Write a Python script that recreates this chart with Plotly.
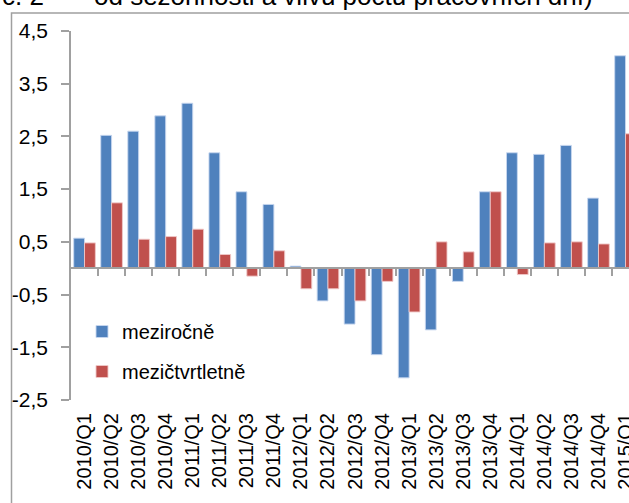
import plotly.graph_objects as go

quarters = ["2010/Q1", "2010/Q2", "2010/Q3", "2010/Q4",
            "2011/Q1", "2011/Q2", "2011/Q3", "2011/Q4",
            "2012/Q1", "2012/Q2", "2012/Q3", "2012/Q4",
            "2013/Q1", "2013/Q2", "2013/Q3", "2013/Q4",
            "2014/Q1", "2014/Q2", "2014/Q3", "2014/Q4",
            "2015/Q1"]
mezirocne = [0.57, 2.52, 2.60, 2.89, 3.13, 2.19, 1.45, 1.21,
             0.04, -0.62, -1.06, -1.64, -2.08, -1.17, -0.25, 1.45,
             2.19, 2.16, 2.33, 1.33, 4.03]
mezictvrtletne = [0.48, 1.24, 0.55, 0.60, 0.74, 0.26, -0.15, 0.33,
                  -0.39, -0.39, -0.62, -0.25, -0.83, 0.50, 0.31, 1.45,
                  -0.12, 0.48, 0.50, 0.46, 2.55]
y_tickvals = [4.5, 3.5, 2.5, 1.5, 0.5, -0.5, -1.5, -2.5]
y_ticktext = ["4,5", "3,5", "2,5", "1,5", "0,5", "-0,5", "-1,5", "-2,5"]

W, H = 629, 503
L, T, B, R = 71, 31, 103, 0
pw, ph = W - L - R, H - T - B
cat_px = 27.05
xmax = -0.5 + pw / cat_px
ymin, ymax = -2.5, 4.5

FONT = "Liberation Sans, Arial, sans-serif"
GRAY = "#a0a0a0"

fig = go.Figure()
fig.add_trace(go.Bar(x=quarters, y=mezirocne, name="meziročně",
                     legendgroup="a",
                     marker=dict(color="#4F81BD",
                                 line=dict(color="rgba(200,215,240,0.9)", width=1))))
fig.add_trace(go.Bar(x=quarters, y=mezictvrtletne, name="mezičtvrtletně",
                     legendgroup="b",
                     marker=dict(color="#C0504D",
                                 line=dict(color="rgba(240,200,200,0.9)", width=1))))

# invisible helper trace to create the zero-line axis with boundary ticks
fig.add_trace(go.Scatter(x=[0, len(quarters) - 1], y=[0, 0], xaxis="x2",
                         mode="markers", marker=dict(opacity=0),
                         showlegend=False, hoverinfo="skip"))

fig.update_layout(
    width=W, height=H,
    margin=dict(l=L, r=R, t=T, b=B, autoexpand=False),
    paper_bgcolor="white", plot_bgcolor="white",
    barmode="group", bargap=0.2, bargroupgap=0,
    font=dict(family=FONT, size=20, color="#000"),
    showlegend=True,
    legend=dict(x=(82 - L) / pw, y=1 - (312 - T) / ph,
                xanchor="left", yanchor="top",
                bgcolor="rgba(0,0,0,0)", borderwidth=0,
                tracegroupgap=11,
                font=dict(family=FONT, size=20, color="#000")),
    xaxis=dict(type="category", range=[-0.5, xmax],
               showline=False, ticks="", showgrid=False, zeroline=False,
               tickangle=-90, ticklabelstandoff=8,
               tickfont=dict(family=FONT, size=20, color="#000")),
    xaxis2=dict(overlaying="x", anchor="free",
                position=(0 - ymin) / (ymax - ymin),
                type="linear", range=[-0.5, xmax],
                tickmode="array",
                tickvals=[i + 0.5 for i in range(len(quarters))],
                ticks="outside", ticklen=7, tickcolor=GRAY, tickwidth=1.5,
                showticklabels=False, showline=True, linecolor=GRAY,
                linewidth=1.5, showgrid=False, zeroline=False),
    yaxis=dict(range=[ymin, ymax], tickmode="array",
               tickvals=y_tickvals, ticktext=y_ticktext,
               showline=True, linecolor=GRAY, linewidth=1.5,
               ticks="outside", ticklen=8, tickcolor=GRAY, tickwidth=1.5,
               showgrid=False, zeroline=False, ticklabelstandoff=9,
               tickfont=dict(family=FONT, size=21, color="#000")),
)

# outer chart border
fig.add_shape(type="rect", xref="paper", yref="paper",
              x0=(11.5 - L) / pw, x1=(W + 20 - L) / pw,
              y0=1 - (H + 20 - T) / ph, y1=1 - (13 - T) / ph,
              line=dict(color=GRAY, width=1.5), fillcolor="rgba(0,0,0,0)",
              layer="above")

# cut-off title at top (only the bottom of the glyphs is visible)
title_y = 1 + (T + 4) / ph
fig.add_annotation(text="č. 2", xref="paper", yref="paper",
                   x=(0 - L) / pw, y=title_y, xanchor="left", yanchor="middle",
                   showarrow=False, font=dict(family=FONT, size=26, color="#000"))
fig.add_annotation(text="od sezónnosti a vlivu počtu pracovních dní)",
                   xref="paper", yref="paper",
                   x=(92 - L) / pw, y=title_y, xanchor="left", yanchor="middle",
                   showarrow=False, font=dict(family=FONT, size=26, color="#000"))

fig.write_html("out.html",
               config={"displayModeBar": False},
               post_script="document.body.style.margin='0';"
                           "document.body.style.overflow='hidden';")
